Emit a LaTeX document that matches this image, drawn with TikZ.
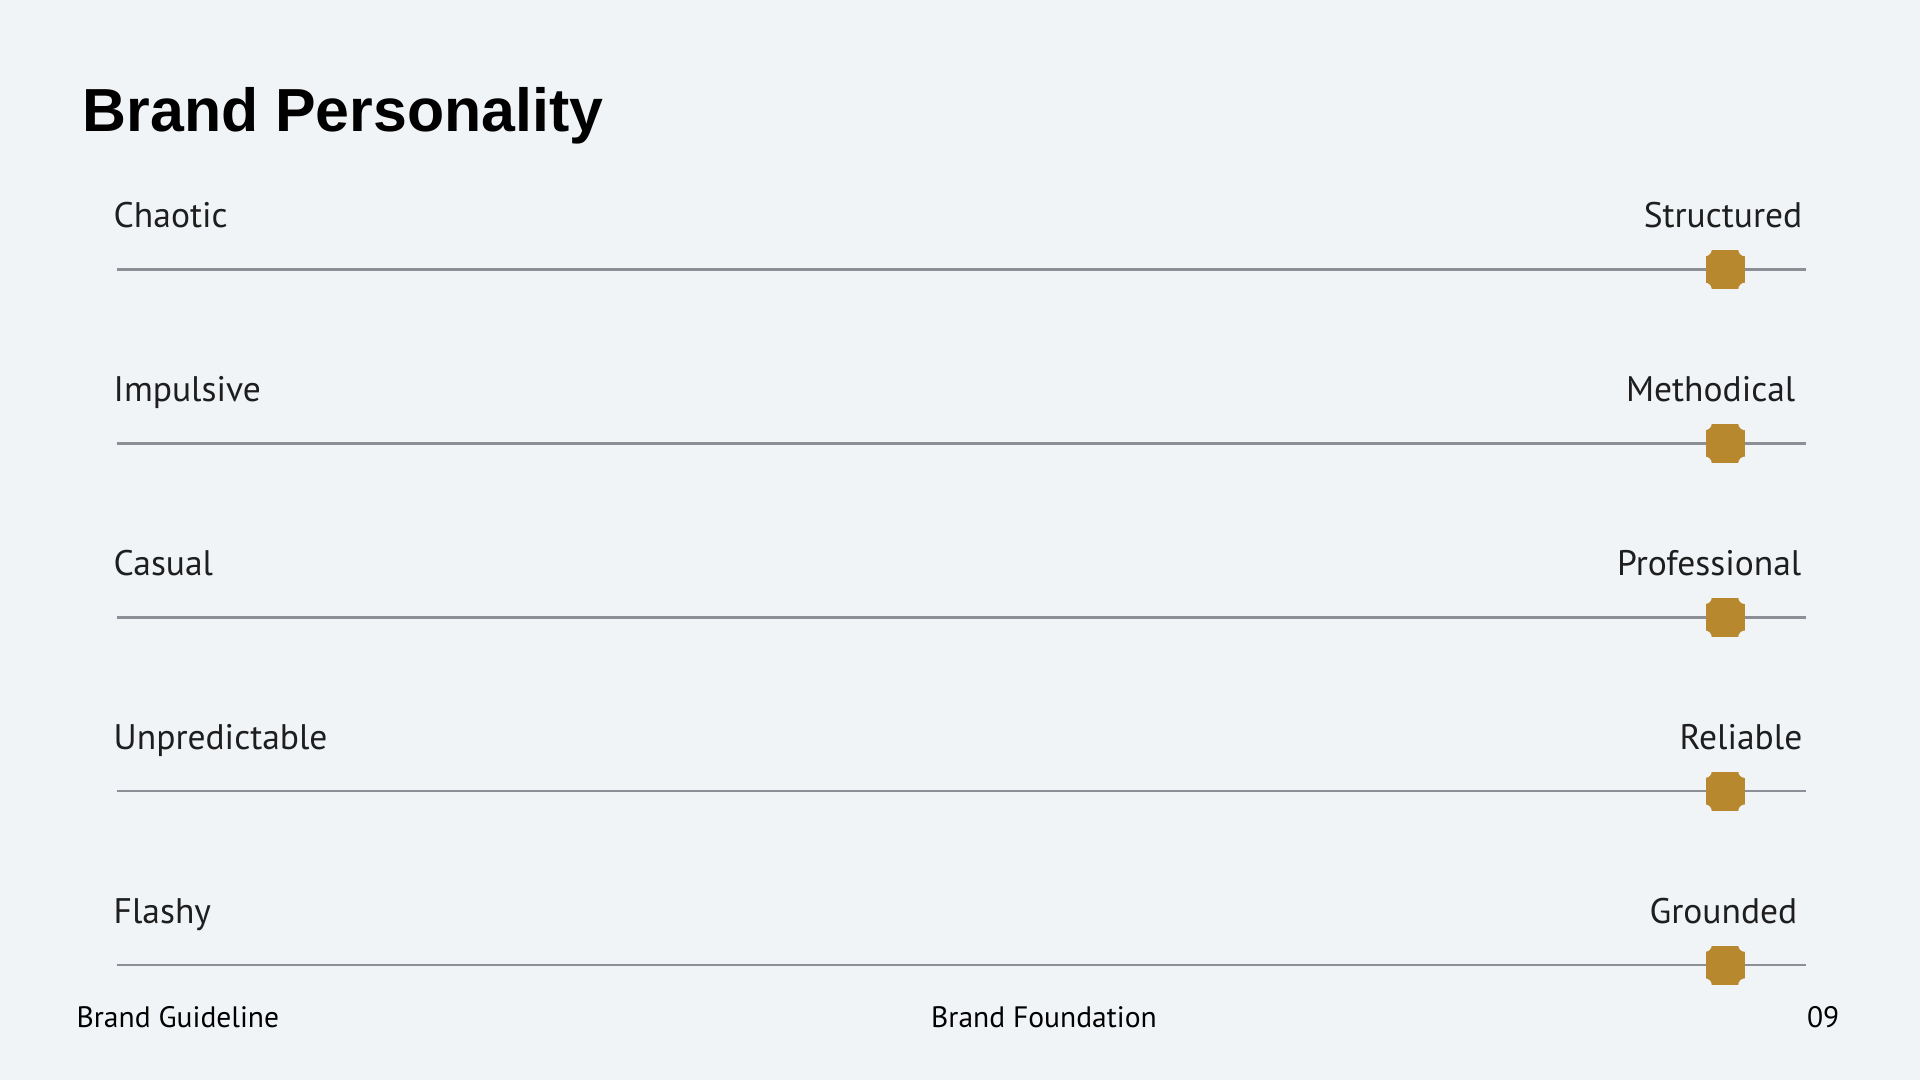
\documentclass[tikz,border=0pt]{standalone}
\usepackage{fontspec}
\setmainfont{PT Sans}
\newfontfamily\headfont{Liberation Sans}
\definecolor{pagebg}{HTML}{F1F4F7}
\definecolor{trackgray}{HTML}{8C8F95}
\definecolor{knobgold}{HTML}{B8882F}
\definecolor{inkgray}{HTML}{1E1E1E}
\begin{document}
\begin{tikzpicture}[x=0.01cm,y=-0.01cm,
    pole/.style={font=\fontsize{10.1}{12}\selectfont,text=inkgray,inner sep=0pt},
    footer/.style={font=\fontsize{8.4}{10}\selectfont,text=black,inner sep=0pt},
    track/.style={draw=trackgray,line width=0.7pt},
    knob/.style={fill=knobgold,minimum size=0.39cm,inner sep=0pt}]
    \fill[pagebg] (0,0) rectangle (1920,1080);
    \useasboundingbox (0,0) rectangle (1920,1080);

    \node[anchor=base west,inner sep=0pt,font=\headfont\bfseries\fontsize{17.3}{20}\selectfont] (title) at (82,132) {Brand Personality};

    \foreach \left/\right/\rx [count=\i from 0] in {Chaotic/Structured/1803,
        Impulsive/Methodical/1796, Casual/Professional/1802,
        Unpredictable/Reliable/1803, Flashy/Grounded/1798}{% one slider per pair
      \pgfmathsetmacro{\y}{269.5+173.9*\i}
      \node[pole,anchor=base west] (left\i) at (113,\y-42) {\left};
      \node[pole,anchor=base east] (right\i) at (\rx,\y-42) {\right};
      \coordinate (start\i) at (117,\y);
      \coordinate (end\i) at (1806,\y);
      \draw[track] (start\i) -- (end\i);
      \node[knob] (knob\i) at (1725,\y) {};
      \foreach \c in {north east,north west,south east,south west}
        \fill[pagebg] (knob\i.\c) circle (0.7mm);% notched corners
    }

    \node[footer,anchor=base west] (guide) at (76,1028) {Brand Guideline};
    \node[footer,anchor=base] (section) at (1044,1028) {Brand Foundation};
    \node[footer,anchor=base east] (page) at (1840,1028) {09};
\end{tikzpicture}
\end{document}
